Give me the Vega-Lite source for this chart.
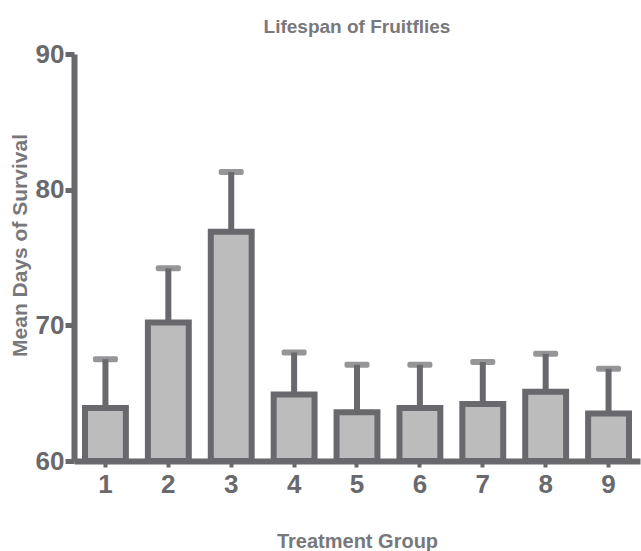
{
  "$schema": "https://vega.github.io/schema/vega-lite/v6.json",
  "autosize": "none",
  "width": 566,
  "height": 407,
  "padding": {"left": 74, "top": 54, "right": 1, "bottom": 90},
  "background": "white",
  "config": {
    "view": {"stroke": null},
    "font": "Liberation Sans"
  },
  "title": {
    "text": "Lifespan of Fruitflies",
    "font": "Liberation Sans",
    "fontSize": 19,
    "fontWeight": "bold",
    "color": "#78787c",
    "anchor": "middle",
    "baseline": "alphabetic",
    "offset": -11
  },
  "data": {
    "values": [
      {"group": "1", "mean": 63.9, "upper": 67.5},
      {"group": "2", "mean": 70.2, "upper": 74.2},
      {"group": "3", "mean": 76.9, "upper": 81.3},
      {"group": "4", "mean": 64.9, "upper": 68.0},
      {"group": "5", "mean": 63.6, "upper": 67.1},
      {"group": "6", "mean": 63.9, "upper": 67.1},
      {"group": "7", "mean": 64.2, "upper": 67.3},
      {"group": "8", "mean": 65.1, "upper": 67.9},
      {"group": "9", "mean": 63.5, "upper": 66.8}
    ]
  },
  "encoding": {
    "x": {
      "field": "group",
      "type": "ordinal",
      "scale": {"paddingInner": 0.35, "paddingOuter": 0.175},
      "axis": {
        "title": "Treatment Group",
        "titleFont": "Liberation Sans",
        "titleFontSize": 20,
        "titleFontWeight": "bold",
        "titleColor": "#78787c",
        "titleBaseline": "middle",
        "titleY": 80,
        "labelAngle": 0,
        "labelFont": "Liberation Sans",
        "labelFontSize": 26,
        "labelFontWeight": "bold",
        "labelColor": "#69696d",
        "labelPadding": 4,
        "domainColor": "#69696d",
        "domainWidth": 6,
        "tickColor": "#69696d",
        "tickWidth": 4,
        "tickSize": 6,
        "grid": false
      }
    }
  },
  "layer": [
    {
      "mark": {"type": "bar", "fill": "#bcbcbc", "stroke": "#69696d", "strokeWidth": 6},
      "encoding": {
        "y": {
          "field": "mean",
          "type": "quantitative",
          "scale": {"domain": [60, 90], "nice": false, "zero": false},
          "axis": {
            "title": "Mean Days of Survival",
            "titleFont": "Liberation Sans",
            "titleFontSize": 21,
            "titleFontWeight": "bold",
            "titleColor": "#78787c",
            "titleBaseline": "middle",
            "titleX": -54,
            "titleY": 191,
            "values": [60, 70, 80, 90],
            "labelFont": "Liberation Sans",
            "labelFontSize": 26,
            "labelFontWeight": "bold",
            "labelColor": "#69696d",
            "labelPadding": 1,
            "domainColor": "#69696d",
            "domainWidth": 6,
            "tickColor": "#69696d",
            "tickWidth": 5,
            "tickSize": 9,
            "grid": false
          }
        },
        "y2": {"datum": 60}
      }
    },
    {
      "mark": {"type": "rule", "color": "#69696d", "strokeWidth": 6},
      "encoding": {
        "y": {"field": "mean", "type": "quantitative"},
        "y2": {"field": "upper"}
      }
    },
    {
      "mark": {"type": "tick", "color": "#69696d", "size": 25, "thickness": 6, "cornerRadius": 2},
      "encoding": {
        "y": {"field": "upper", "type": "quantitative"}
      }
    }
  ]
}
